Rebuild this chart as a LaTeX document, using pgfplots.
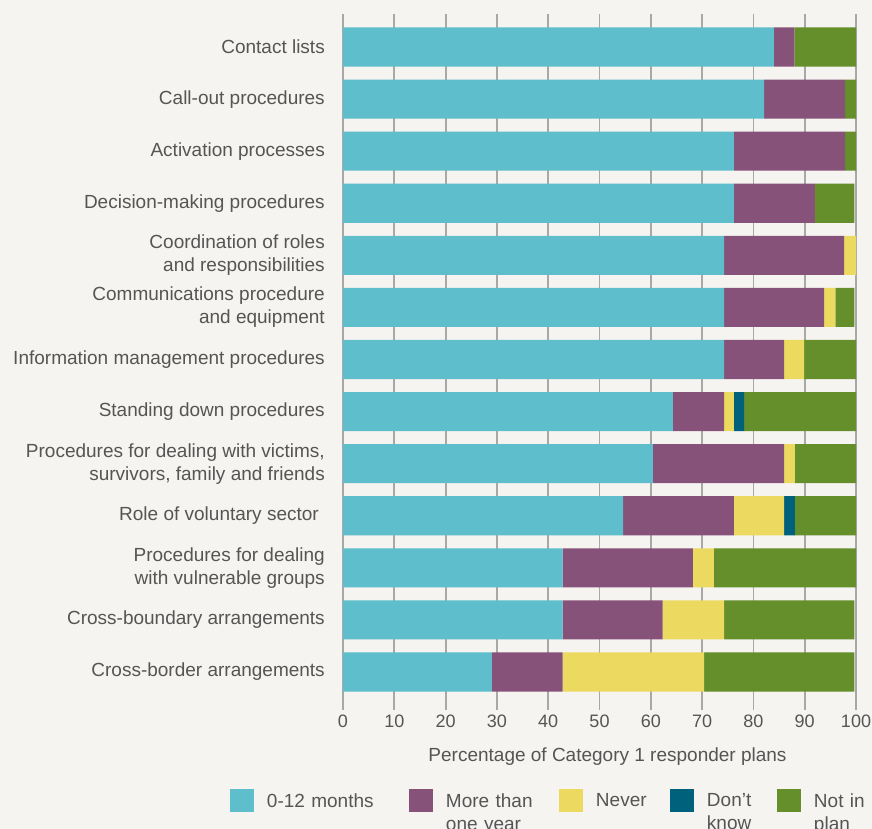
\documentclass[border=0pt]{standalone}
\usepackage{pgfplots}
\pgfplotsset{compat=1.18}
\usepackage{pgfplotstable}
\usepackage{fontspec}
\setmainfont{Liberation Sans}
\definecolor{bg}{RGB}{245,244,240}
\definecolor{txt}{RGB}{85,85,85}
\definecolor{ccyan}{RGB}{94,190,204}
\definecolor{cpurple}{RGB}{135,82,121}
\definecolor{cyellow}{RGB}{236,217,95}
\definecolor{cblue}{RGB}{0,97,125}
\definecolor{cgreen}{RGB}{100,143,43}
\definecolor{gridc}{RGB}{168,168,168}

\pgfplotstableread{
row a b c d e
0  84.0 4.0  0.0  0.0 12.0
1  82.1 15.8 0.0  0.0 2.1
2  76.2 21.7 0.0  0.0 2.1
3  76.2 15.8 0.0  0.0 7.7
4  74.3 23.4 2.3  0.0 0.0
5  74.3 19.5 2.2  0.0 3.7
6  74.3 11.7 3.9  0.0 10.1
7  64.3 10.0 1.9  2.0 21.8
8  60.4 25.6 2.1  0.0 11.9
9  54.6 21.6 9.8  2.1 11.9
10 42.8 25.4 4.1  0.0 27.7
11 42.8 19.5 12.0 0.0 25.4
12 29.0 13.8 27.6 0.0 29.3
}\datatable

\begin{document}
\begin{tikzpicture}
\clip (0pt,0pt) rectangle (872pt,-829pt);
\fill[bg] (0pt,0pt) rectangle (872pt,-829pt);
\begin{axis}[
  at={(343pt,-710pt)}, anchor=south west,
  scale only axis, width=513pt, height=696pt,
  xbar stacked, bar width=0.75,
  xmin=0, xmax=100,
  ymin=-0.634, ymax=12.73, y dir=reverse,
  xtick={0,10,...,100},
  ytick={0,...,12},
  yticklabels={Contact lists, Call-out procedures, Activation processes,
    Decision-making procedures, {Coordination of roles\\and responsibilities},
    {Communications procedure\\and equipment}, Information management procedures,
    Standing down procedures, {Procedures for dealing with victims,\\survivors, family and friends},
    {Role of voluntary sector\hspace*{6pt}}, {Procedures for dealing\\with vulnerable groups},
    Cross-boundary arrangements, Cross-border arrangements},
  axis line style={draw=none},
  major tick length=0pt,
  tick style={draw=none},
  xmajorgrids,
  major grid style={line width=1.8pt, color=gridc},
  /pgf/number format/assume math mode=true,
  yticklabel style={font=\fontsize{19}{23}\selectfont, text=txt, align=right, inner sep=0pt, xshift=-18pt},
  xticklabel style={font=\fontsize{18}{22}\selectfont, text=txt, inner sep=0pt, yshift=-5pt},
  xlabel={Percentage of Category 1 responder plans},
  xlabel style={font=\fontsize{19}{23}\selectfont, text=txt, xshift=8pt, yshift=-16pt},
  legend columns=5,
  legend style={at={(-0.2203,-0.1135)}, anchor=north west, draw=none, fill=none,
    inner sep=0pt, outer sep=0pt,
    font=\fontsize{19}{23}\selectfont, text=txt,
    cells={anchor=base west},
    nodes={inner sep=0pt, outer sep=0pt},
    /tikz/column 1/.style={column sep=13pt},
    /tikz/column 3/.style={column sep=13pt},
    /tikz/column 5/.style={column sep=13pt},
    /tikz/column 7/.style={column sep=13pt},
    /tikz/column 9/.style={column sep=13pt},
    /tikz/column 2/.style={nodes={text width=142pt}},
    /tikz/column 4/.style={nodes={text width=113pt}},
    /tikz/column 6/.style={nodes={text width=74pt}},
    /tikz/column 8/.style={nodes={text width=70pt}},
    /tikz/column 10/.style={nodes={text width=55pt}},
  },
  legend cell align=left,
  sqleg/.style={legend image code/.code={\fill[##1,draw=none] (0pt,-11pt) rectangle (24pt,12pt);}},
]
\addplot[fill=ccyan, draw=none, sqleg] table[x=a, y=row] {\datatable};
\addplot[fill=cpurple, draw=none, sqleg] table[x=b, y=row] {\datatable};
\addplot[fill=cyellow, draw=none, sqleg] table[x=c, y=row] {\datatable};
\addplot[fill=cblue, draw=none, sqleg] table[x=d, y=row] {\datatable};
\addplot[fill=cgreen, draw=none, sqleg] table[x=e, y=row] {\datatable};
\legend{0-12 months, {More than\\one year}, Never, {Don’t\\know}, {Not in\\plan}}
\end{axis}
\end{tikzpicture}
\end{document}
